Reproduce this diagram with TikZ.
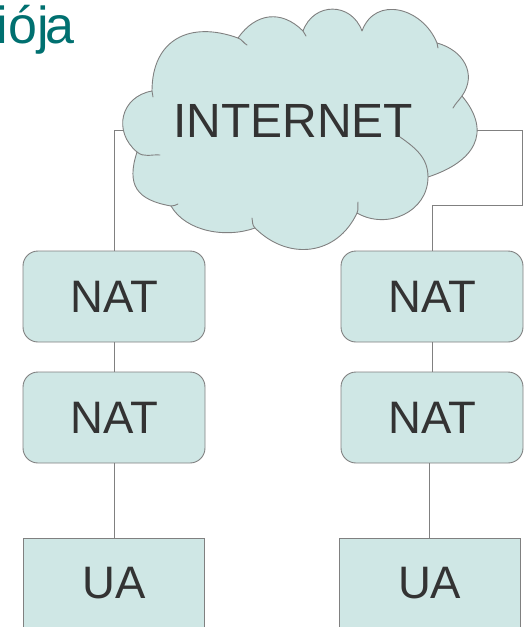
\documentclass[tikz,border=0pt]{standalone}
\usepackage{fontspec}
\setmainfont{Liberation Sans}
\definecolor{boxfill}{RGB}{207,231,229}
\definecolor{edge}{RGB}{128,128,128}
\definecolor{ink}{RGB}{51,51,51}
\definecolor{titleteal}{RGB}{0,112,112}

\begin{document}
\begin{tikzpicture}[x=1pt,y=1pt,
  box/.style={draw=edge, fill=boxfill, line width=0.9pt, minimum width=182pt,
    minimum height=91pt, inner sep=0pt, text=ink, font=\fontsize{45.5}{54}\selectfont},
  natbox/.style={box, rounded corners=15pt},
  uabox/.style={box, minimum width=181pt},
  wire/.style={draw=edge, line width=0.9pt},
  cloudline/.style={draw=edge, line width=0.9pt, line join=round, line cap=round}]

\useasboundingbox (0,0) rectangle (525,-627);
\clip (0,0) rectangle (525,-627);

% title fragment
\node[anchor=base west, inner sep=0pt, text=titleteal, font=\fontsize{52}{60}\selectfont]
  (title) at (-3.5,-43.3) {iój\kern-3.5pt a};

% boxes
\node[natbox] (nat1) at (114,-296.5) {NAT};
\node[natbox] (nat2) at (114,-417.5) {NAT};
\node[natbox] (nat3) at (432,-296.5) {NAT};
\node[natbox] (nat4) at (432,-417.5) {NAT};
\node[uabox]  (ua1)  at (113.8,-583.5) {UA};
\node[uabox]  (ua2)  at (429.7,-583.5) {UA};

% connector anchors hidden under the cloud
\coordinate (cl) at (140,-130);
\coordinate (cr) at (460,-130);

% connectors (drawn before the cloud so it covers their ends)
\draw[wire] (cl) -| (nat1.north);
\draw[wire] (cr) -- (522.5,-130) -- (522.5,-205.7) -| (nat3.north);
\draw[wire] (nat1.south) -- (nat2.north);
\draw[wire] (nat3.south) -- (nat4.north);
\draw[wire] (nat2.south) -- (nat2.south |- ua1.north);
\draw[wire] (ua2.north) -- (ua2.north |- nat4.south);

% cloud outline
\path[cloudline, fill=boxfill]
  (152,-91)  to[out=90,in=160,looseness=1.3]   (238,-38)
             to[out=55,in=135,looseness=1.2]   (303,-31)
             to[out=70,in=110,looseness=1.35]  (362,-31)
             to[out=70,in=112,looseness=1.29]  (437,-43)
             to[out=-15,in=55,looseness=1.18]  (462,-96)
             to[out=-50,in=18,looseness=1.40]  (428,-177)
             to[out=-90,in=-30,looseness=1.12] (357,-213)
             to[out=245,in=-45,looseness=1.17] (255,-228)
             to[out=200,in=-60,looseness=0.885] (171,-206)
             to[out=170,in=252,looseness=1.40] (137,-152)
             to[out=140,in=190,looseness=1.30] cycle;

% small inward hooks where the puffs overlap
\draw[cloudline] (152,-91)  to[out=-90,in=95]  (153,-97);
\draw[cloudline] (238,-38)  to[out=-20,in=150] (247,-45);
\draw[cloudline] (303,-31)  to[out=-45,in=120] (306,-36);
\draw[cloudline] (437,-43)  to[out=-68,in=100] (438,-48);
\draw[cloudline] (462,-96)  to[out=235,in=60]  (453,-108);
\draw[cloudline] (428,-177) to[out=90,in=-35]  (400,-137);
\draw[cloudline] (357,-213) to[out=65,in=-100] (358,-202);
\draw[cloudline] (255,-228) to[out=135,in=-80] (252,-218);
\draw[cloudline] (171,-206) to[out=-10,in=195] (178,-204);
\draw[cloudline] (137,-152) to[out=-40,in=175] (160,-155);

\node[inner sep=0pt, text=ink, font=\fontsize{48}{56}\selectfont] (internet) at (293,-120.5) {INTERNET};

\end{tikzpicture}
\end{document}
